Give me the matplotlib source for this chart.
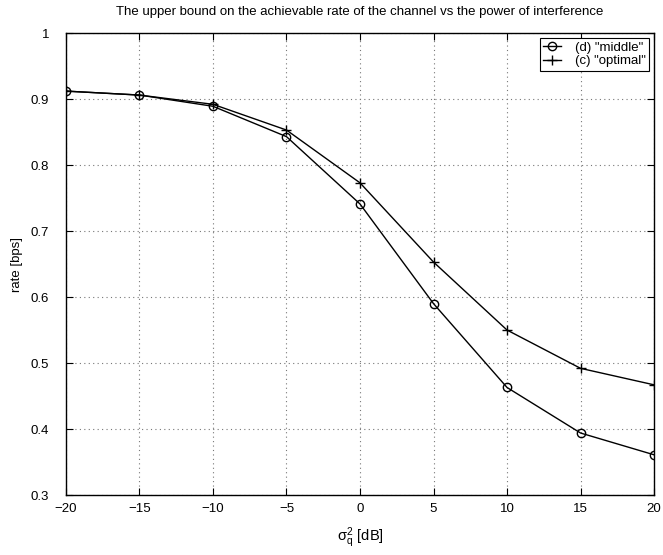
import matplotlib
matplotlib.use('Agg')
import matplotlib.pyplot as plt

plt.rcParams['font.family'] = ['Liberation Sans', 'DejaVu Sans']
plt.rcParams['mathtext.fontset'] = 'custom'
plt.rcParams['mathtext.rm'] = 'Liberation Sans'
plt.rcParams['mathtext.it'] = 'Liberation Sans'

# data
x = [-20, -15, -10, -5, 0, 5, 10, 15, 20]
middle = [0.912, 0.906, 0.889, 0.843, 0.741, 0.590, 0.463, 0.394, 0.361]
optimal = [0.912, 0.906, 0.892, 0.853, 0.773, 0.653, 0.550, 0.492, 0.467]
xticks = [-20, -15, -10, -5, 0, 5, 10, 15, 20]
yticks = [0.3, 0.4, 0.5, 0.6, 0.7, 0.8, 0.9, 1]

fig = plt.figure(figsize=(6.63, 5.55), dpi=100)
ax = fig.add_axes([0.0995, 0.108, 0.887, 0.8325])

ax.plot(x, middle, color='black', lw=1, marker='o', markersize=6,
        markerfacecolor='none', markeredgewidth=1, label='(d) "middle"')
ax.plot(x, optimal, color='black', lw=1, marker='+', markersize=6.5,
        markeredgewidth=1, label='(c) "optimal"')

ax.set_xlim(-20, 20)
ax.set_ylim(0.3, 1)
ax.set_xticks(xticks)
ax.set_xticklabels(['\u221220', '\u221215', '\u221210', '\u22125', '0', '5', '10', '15', '20'])
ax.set_yticks(yticks)
ax.set_yticklabels(['0.3', '0.4', '0.5', '0.6', '0.7', '0.8', '0.9', '1'])
ax.tick_params(direction='in', top=True, right=True, length=5, labelsize=9.5)
ax.tick_params(axis='x', pad=6)
ax.tick_params(axis='y', pad=12)
ax.grid(True, linestyle=(0, (1, 3)), color='#777777', lw=0.8)
for s in ax.spines.values():
    s.set_linewidth(1)

ax.set_title('The upper bound on the achievable rate of the channel vs the power of interference',
             fontsize=9.5, pad=13)
ax.set_xlabel(r'$\sigma_q^2$ [dB]', fontsize=10.5, labelpad=7)
ax.set_ylabel('rate [bps]', fontsize=9.5, labelpad=6)

leg = ax.legend(loc='upper right', fontsize=9.5, fancybox=False, framealpha=1,
                edgecolor='black', handlelength=1.4, handletextpad=1.0,
                borderaxespad=0.4, labelspacing=0.1, borderpad=0.25)
leg.get_frame().set_linewidth(0.8)

fig.savefig('out.png', dpi=100)
